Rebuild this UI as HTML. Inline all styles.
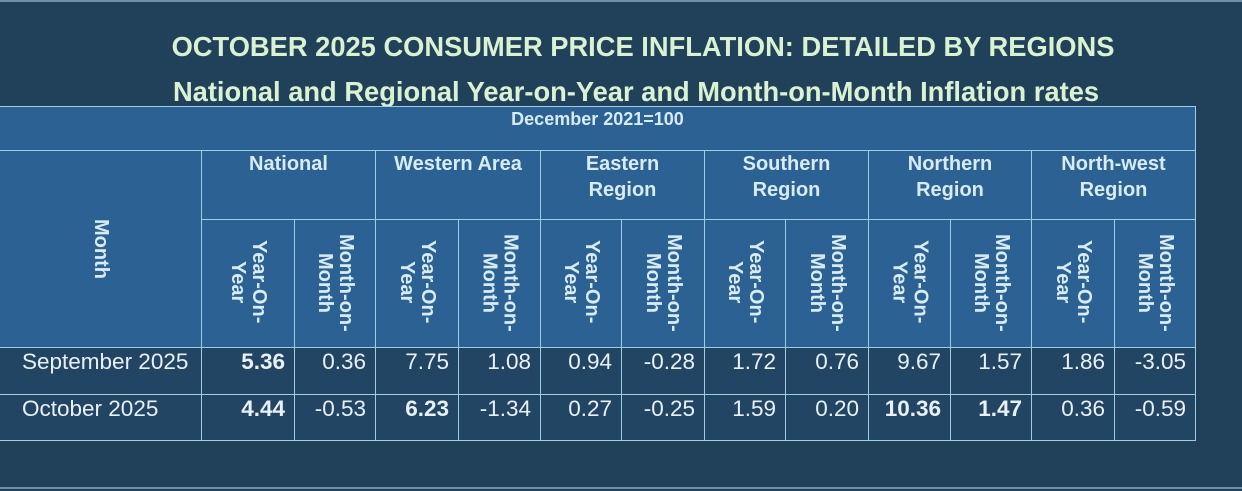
<!DOCTYPE html>
<html><head><meta charset="utf-8"><style>
*{margin:0;padding:0;box-sizing:border-box}
body{width:1242px;height:491px;background:#21415b;font-family:"Liberation Sans",sans-serif;position:relative;overflow:hidden}
.t{position:absolute;left:15px;width:1242px;text-align:center;font-weight:bold;color:#d9f2cf;font-size:27.3px;line-height:30px;white-space:nowrap}
.c{position:absolute;border:1px solid #9ccfe0;margin:-1px 0 0 -1px}
.h{background:#2b6193;color:#d7ecf5;font-weight:bold;font-size:20px;text-align:center;line-height:26px}
.d{background:#234564;color:#e8f1f5;font-size:22.5px;text-align:right;padding:1px 9px 0 0}
.v{writing-mode:vertical-rl;display:flex;align-items:center;justify-content:flex-start;padding-top:14px;line-height:21px;text-align:center}
b{font-weight:bold}
</style></head><body>
<div style="position:absolute;left:0;top:0;width:1242px;height:2px;background:#6e8ea5"></div>
<div style="position:absolute;left:0;top:487px;width:1242px;height:2px;background:#6e8ea5"></div>
<div class="t" style="top:32px;left:22px">OCTOBER 2025 CONSUMER PRICE INFLATION: DETAILED BY REGIONS</div>
<div class="t" style="top:77px;left:15px">National and Regional Year-on-Year and Month-on-Month Inflation rates</div>

<div class="c h" style="left:0;top:107px;width:1197px;height:45px;line-height:24px;font-size:18px">December 2021=100</div>
<div class="c h v" style="left:0;top:151px;width:203px;height:198px;justify-content:center;padding-top:0;align-items:center">Month</div>

<div class="c h" style="left:202px;top:151px;width:175px;height:70px;padding-top:0">National</div>
<div class="c h" style="left:376px;top:151px;width:166px;height:70px;padding-top:0">Western Area</div>
<div class="c h" style="left:541px;top:151px;width:165px;height:70px;padding-top:0">Eastern<br>Region</div>
<div class="c h" style="left:705px;top:151px;width:165px;height:70px;padding-top:0">Southern<br>Region</div>
<div class="c h" style="left:869px;top:151px;width:164px;height:70px;padding-top:0">Northern<br>Region</div>
<div class="c h" style="left:1032px;top:151px;width:165px;height:70px;padding-top:0">North-west<br>Region</div>

<div class="c h v" style="left:202px;top:220px;width:94px;height:129px;padding-top:20px">Year-On-<br>Year</div>
<div class="c h v" style="left:295px;top:220px;width:82px;height:129px">Month-on-<br>Month</div>
<div class="c h v" style="left:376px;top:220px;width:84px;height:129px;padding-top:20px">Year-On-<br>Year</div>
<div class="c h v" style="left:459px;top:220px;width:83px;height:129px">Month-on-<br>Month</div>
<div class="c h v" style="left:541px;top:220px;width:82px;height:129px;padding-top:20px">Year-On-<br>Year</div>
<div class="c h v" style="left:622px;top:220px;width:84px;height:129px">Month-on-<br>Month</div>
<div class="c h v" style="left:705px;top:220px;width:82px;height:129px;padding-top:20px">Year-On-<br>Year</div>
<div class="c h v" style="left:786px;top:220px;width:84px;height:129px">Month-on-<br>Month</div>
<div class="c h v" style="left:869px;top:220px;width:83px;height:129px;padding-top:20px">Year-On-<br>Year</div>
<div class="c h v" style="left:951px;top:220px;width:82px;height:129px">Month-on-<br>Month</div>
<div class="c h v" style="left:1032px;top:220px;width:84px;height:129px;padding-top:20px">Year-On-<br>Year</div>
<div class="c h v" style="left:1115px;top:220px;width:82px;height:129px">Month-on-<br>Month</div>

<!-- row 1 -->
<div class="c d" style="left:0;top:348px;width:203px;height:48px;text-align:left;padding-left:22px">September 2025</div>
<div class="c d" style="left:202px;top:348px;width:94px;height:48px"><b>5.36</b></div>
<div class="c d" style="left:295px;top:348px;width:82px;height:48px">0.36</div>
<div class="c d" style="left:376px;top:348px;width:84px;height:48px">7.75</div>
<div class="c d" style="left:459px;top:348px;width:83px;height:48px">1.08</div>
<div class="c d" style="left:541px;top:348px;width:82px;height:48px">0.94</div>
<div class="c d" style="left:622px;top:348px;width:84px;height:48px">-0.28</div>
<div class="c d" style="left:705px;top:348px;width:82px;height:48px">1.72</div>
<div class="c d" style="left:786px;top:348px;width:84px;height:48px">0.76</div>
<div class="c d" style="left:869px;top:348px;width:83px;height:48px">9.67</div>
<div class="c d" style="left:951px;top:348px;width:82px;height:48px">1.57</div>
<div class="c d" style="left:1032px;top:348px;width:84px;height:48px">1.86</div>
<div class="c d" style="left:1115px;top:348px;width:82px;height:48px">-3.05</div>
<!-- row 2 -->
<div class="c d" style="left:0;top:395px;width:203px;height:47px;text-align:left;padding-left:22px">October 2025</div>
<div class="c d" style="left:202px;top:395px;width:94px;height:47px"><b>4.44</b></div>
<div class="c d" style="left:295px;top:395px;width:82px;height:47px">-0.53</div>
<div class="c d" style="left:376px;top:395px;width:84px;height:47px"><b>6.23</b></div>
<div class="c d" style="left:459px;top:395px;width:83px;height:47px">-1.34</div>
<div class="c d" style="left:541px;top:395px;width:82px;height:47px">0.27</div>
<div class="c d" style="left:622px;top:395px;width:84px;height:47px">-0.25</div>
<div class="c d" style="left:705px;top:395px;width:82px;height:47px">1.59</div>
<div class="c d" style="left:786px;top:395px;width:84px;height:47px">0.20</div>
<div class="c d" style="left:869px;top:395px;width:83px;height:47px"><b>10.36</b></div>
<div class="c d" style="left:951px;top:395px;width:82px;height:47px"><b>1.47</b></div>
<div class="c d" style="left:1032px;top:395px;width:84px;height:47px">0.36</div>
<div class="c d" style="left:1115px;top:395px;width:82px;height:47px">-0.59</div>
</body></html>
